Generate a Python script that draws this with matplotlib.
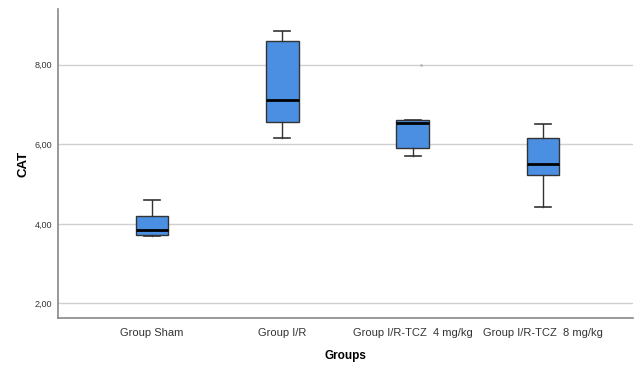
import matplotlib.pyplot as plt

plt.rcParams['font.family'] = ['Liberation Sans', 'DejaVu Sans']

groups = ['Group Sham', 'Group I/R', 'Group I/R-TCZ  4 mg/kg', 'Group I/R-TCZ  8 mg/kg']
whis_lo = [3.70, 6.16, 5.70, 4.43]
q1 = [3.71, 6.56, 5.91, 5.23]
med = [3.85, 7.12, 6.54, 5.50]
q3 = [4.21, 8.61, 6.60, 6.17]
whis_hi = [4.61, 8.85, 6.60, 6.51]
outlier_tcz4 = [8.0]

stats = []
for i in range(len(groups)):
    stats.append({'label': groups[i], 'whislo': whis_lo[i], 'q1': q1[i], 'med': med[i],
                  'q3': q3[i], 'whishi': whis_hi[i], 'fliers': []})

fig = plt.figure(figsize=(6.34, 3.65), dpi=100)
ax = fig.add_axes([0.0915, 0.129, 0.907, 0.846])

ax.bxp(stats, positions=[1, 2, 3, 4], widths=0.25, patch_artist=True,
       boxprops=dict(facecolor='#4b8fe3', edgecolor='#333333', linewidth=1),
       medianprops=dict(color='black', linewidth=2),
       whiskerprops=dict(color='#333333', linewidth=1),
       capprops=dict(color='#333333', linewidth=1.2), capwidths=0.12, zorder=3)

# tiny outlier marks
ax.plot([3.06], outlier_tcz4, marker='.', color='#aaaaaa', markersize=1.5, linestyle='none', zorder=3)

ax.set_ylim(1.635, 9.4)
ax.set_xlim(0.28, 4.69)
ax.set_yticks([2, 4, 6, 8])
ax.set_yticklabels(['2,00', '4,00', '6,00', '8,00'], fontsize=6.5, color='#333333')
ax.set_xticklabels(groups, fontsize=8, color='#333333')
ax.tick_params(axis='y', length=0, pad=4)
ax.tick_params(axis='x', length=0, pad=7)
ax.grid(axis='y', color='#d0d0d0', linewidth=1)
ax.set_axisbelow(True)
for s in ['top', 'right']:
    ax.spines[s].set_visible(False)
for s in ['left', 'bottom']:
    ax.spines[s].set_color('#888888')
    ax.spines[s].set_linewidth(1.2)

ax.set_ylabel('CAT', fontsize=9.5, fontweight='bold', labelpad=4)
ax.set_xlabel('Groups', fontsize=8.5, fontweight='bold', labelpad=9)

fig.savefig('out.png', dpi=100)
